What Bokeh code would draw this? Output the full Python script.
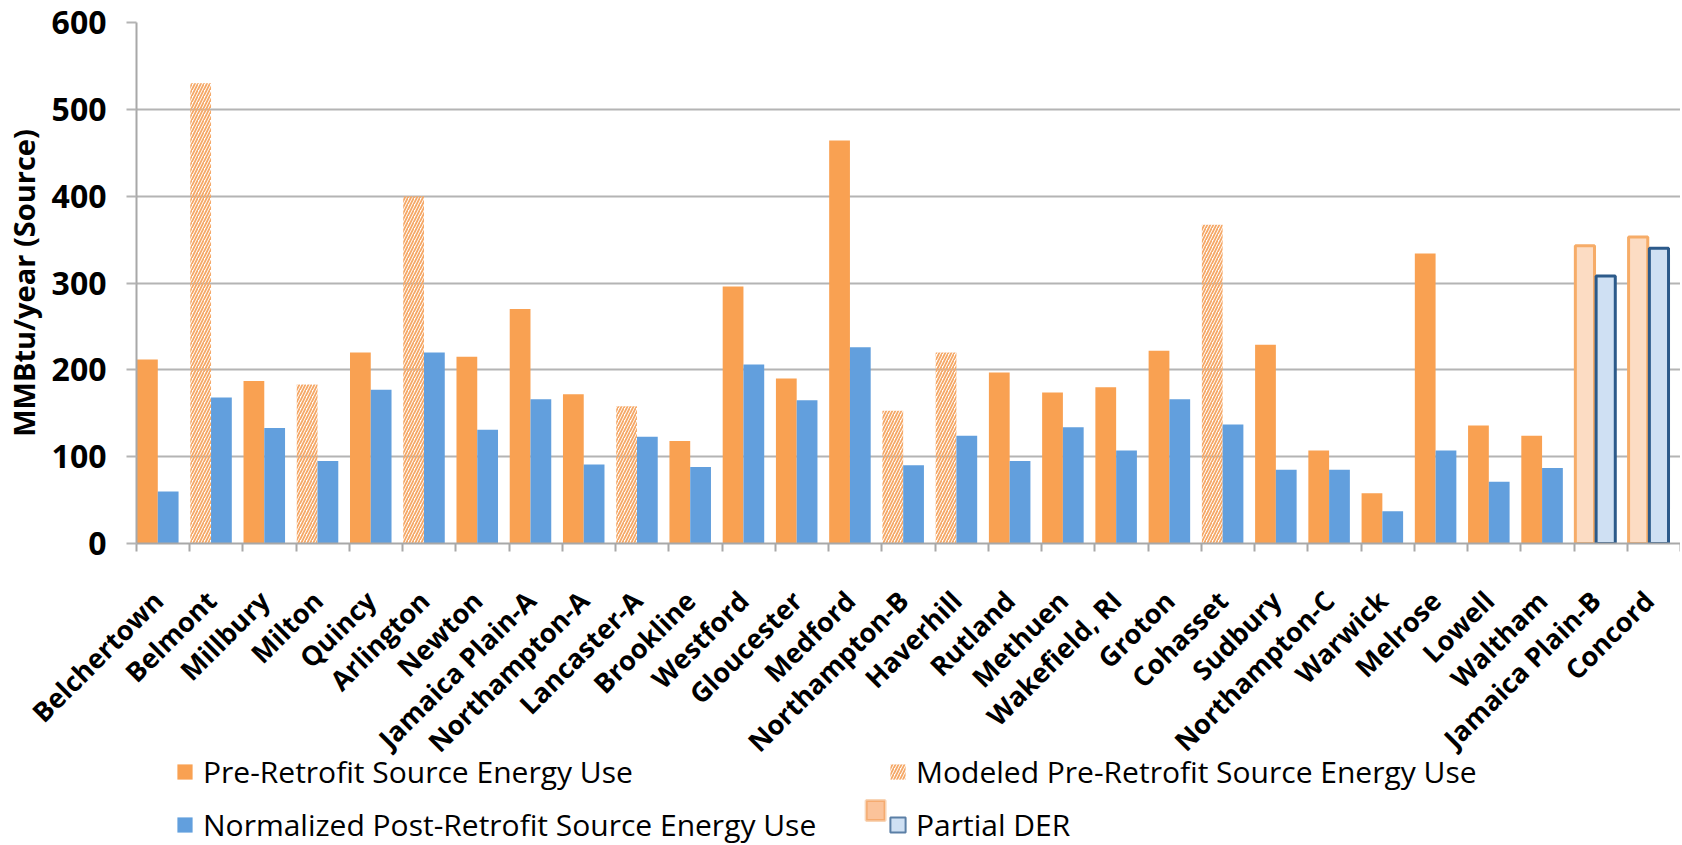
import math
from bokeh.plotting import figure
from bokeh.layouts import column
from bokeh.models import (Range1d, FixedTicker, Legend, LegendItem, ColumnDataSource,
                          BoxAnnotation)
from bokeh.embed import file_html
from bokeh.resources import INLINE

# ---------------- data ----------------
sites = ["Belchertown", "Belmont", "Millbury", "Milton", "Quincy", "Arlington", "Newton",
         "Jamaica Plain-A", "Northampton-A", "Lancaster-A", "Brookline", "Westford",
         "Gloucester", "Medford", "Northampton-B", "Haverhill", "Rutland", "Methuen",
         "Wakefield, RI", "Groton", "Cohasset", "Sudbury", "Northampton-C", "Warwick",
         "Melrose", "Lowell", "Waltham", "Jamaica Plain-B", "Concord"]

pre_sites = ["Belchertown", "Millbury", "Quincy", "Newton", "Jamaica Plain-A", "Northampton-A",
             "Brookline", "Westford", "Gloucester", "Medford", "Rutland", "Methuen",
             "Wakefield, RI", "Groton", "Sudbury", "Northampton-C", "Warwick", "Melrose",
             "Lowell", "Waltham"]
pre_values = [212, 187, 220, 215, 270, 172, 118, 296, 190, 464, 197, 174, 180, 222, 229, 107,
              58, 334, 136, 124]

modeled_sites = ["Belmont", "Milton", "Arlington", "Lancaster-A", "Northampton-B", "Haverhill",
                 "Cohasset"]
modeled_values = [530, 183, 400, 158, 153, 220, 367]

post_sites = sites[:27]
post_values = [60, 168, 133, 95, 177, 220, 131, 166, 91, 123, 88, 206, 165, 226, 90, 124, 95,
               134, 107, 166, 137, 85, 85, 37, 107, 71, 87]

partial_sites = ["Jamaica Plain-B", "Concord"]
partial_pre_values = [343, 353]
partial_post_values = [308, 340]

y_ticks = [0, 100, 200, 300, 400, 500, 600]

legend_labels = ["Pre-Retrofit Source Energy Use", "Modeled Pre-Retrofit Source Energy Use",
                 "Normalized Post-Retrofit Source Energy Use", "Partial DER"]

# ---------------- styling ----------------
ORANGE = "#F9A152"
BLUE = "#629FDD"
HATCH = "#F5A867"
P_ORANGE_FILL = "#FCDCC3"
P_ORANGE_LINE = "#F6AC68"
P_BLUE_FILL = "#CFE0F3"
P_BLUE_LINE = "#2C5A8A"
GRID = "#B4B4B4"
AXIS = "#A8A8A8"
FONT = "Open Sans"

W = 1680
LEFT = 131
TOP = 22
FRAME_H = 521
BOTTOM = 236
MAIN_H = TOP + FRAME_H + BOTTOM
LEG_H = 94
LEG_OVERLAP = MAIN_H - (845 - LEG_H)

idx = {s: i for i, s in enumerate(sites)}
LEFT_OFF, RIGHT_OFF, BAR_W = 0.205, 0.595, 0.39

STYLE_PRE = dict(fill_color=ORANGE, line_color=None)
STYLE_MOD = dict(fill_color="white", fill_alpha=0, line_color=None, hatch_pattern="/",
                 hatch_color=HATCH, hatch_scale=6, hatch_weight=1.8)
STYLE_POST = dict(fill_color=BLUE, line_color=None)
STYLE_PPRE = dict(fill_color=P_ORANGE_FILL, line_color=P_ORANGE_LINE, line_width=3)
STYLE_PPOST = dict(fill_color=P_BLUE_FILL, line_color=P_BLUE_LINE, line_width=3)


def source(names, vals, off):
    return ColumnDataSource(dict(x=[idx[n] + off for n in names], top=vals, site=names))


src_pre = source(pre_sites, pre_values, LEFT_OFF)
src_mod = source(modeled_sites, modeled_values, LEFT_OFF)
src_post = source(post_sites, post_values, RIGHT_OFF)
src_ppre = source(partial_sites, partial_pre_values, LEFT_OFF)
src_ppost = source(partial_sites, partial_post_values, RIGHT_OFF)

p = figure(width=W, height=MAIN_H,
           x_range=Range1d(0, len(sites)), y_range=Range1d(y_ticks[0], y_ticks[-1]),
           output_backend="svg", toolbar_location=None,
           min_border_left=LEFT, min_border_right=0, min_border_top=TOP,
           min_border_bottom=BOTTOM)
p.outline_line_color = None
p.background_fill_color = "white"
p.border_fill_color = "white"

p.vbar(x="x", top="top", width=BAR_W, source=src_pre, **STYLE_PRE)
p.vbar(x="x", top="top", width=BAR_W, source=src_mod, **STYLE_MOD)
p.vbar(x="x", top="top", width=BAR_W, source=src_post, **STYLE_POST)
p.vbar(x="x", top="top", width=BAR_W - 0.03, source=src_ppre, **STYLE_PPRE)
p.vbar(x="x", top="top", width=BAR_W - 0.03, source=src_ppost, **STYLE_PPOST)

# grid
p.xgrid.visible = False
p.ygrid.grid_line_color = GRID
p.ygrid.grid_line_width = 2

# y axis
yax = p.yaxis[0]
yax.ticker = FixedTicker(ticks=y_ticks)
yax.axis_label = "MMBtu/year (Source)"
yax.axis_label_text_font = FONT
yax.axis_label_text_font_style = "bold"
yax.axis_label_text_font_size = "29px"
yax.axis_label_text_color = "black"
yax.axis_label_standoff = 6
yax.major_label_text_font = FONT
yax.major_label_text_font_style = "bold"
yax.major_label_text_font_size = "32px"
yax.major_label_text_color = "black"
yax.major_label_standoff = 20
yax.major_tick_out = 10
yax.major_tick_in = 0
yax.minor_tick_line_color = None
yax.major_tick_line_color = GRID
yax.major_tick_line_width = 2
yax.axis_line_color = AXIS
yax.axis_line_width = 2

# x axis
xax = p.xaxis[0]
xax.ticker = FixedTicker(ticks=[i + 0.4 for i in range(len(sites))],
                         minor_ticks=list(range(len(sites) + 1)))
xax.major_label_overrides = {i + 0.4: s for i, s in enumerate(sites)}
xax.major_label_orientation = math.pi / 4
xax.major_label_text_font = FONT
xax.major_label_text_font_style = "bold"
xax.major_label_text_font_size = "27px"
xax.major_label_text_color = "black"
xax.major_label_standoff = 44
xax.major_tick_line_color = None
xax.major_tick_out = 0
xax.major_tick_in = 0
xax.minor_tick_line_color = AXIS
xax.minor_tick_line_width = 2
xax.minor_tick_out = 8
xax.minor_tick_in = 0
xax.axis_line_color = AXIS
xax.axis_line_width = 2

# ---------------- legend strip (overlaps the bottom border of the chart) ----------------
leg = figure(width=W, height=LEG_H, x_range=Range1d(LEFT, W), y_range=Range1d(0, LEG_H),
             output_backend="svg", toolbar_location=None,
             min_border_left=LEFT, min_border_right=0, min_border_top=0, min_border_bottom=0,
             x_axis_location=None, y_axis_location=None, margin=(-LEG_OVERLAP, 0, 0, 0))
leg.outline_line_color = None
leg.grid.visible = False
leg.background_fill_alpha = 0
leg.border_fill_alpha = 0

l_pre = leg.vbar(x="x", top="top", width=BAR_W, source=src_pre, visible=False, **STYLE_PRE)
l_mod = leg.vbar(x="x", top="top", width=BAR_W, source=src_mod, visible=False, **STYLE_MOD)
l_post = leg.vbar(x="x", top="top", width=BAR_W, source=src_post, visible=False, **STYLE_POST)
l_part = leg.vbar(x="x", top="top", width=BAR_W, source=src_ppost, visible=False,
                  fill_color=P_BLUE_FILL, line_color="#5B7FA6", line_width=2)

legend = Legend(items=[
    LegendItem(label=legend_labels[0], renderers=[l_pre]),
    LegendItem(label=legend_labels[1], renderers=[l_mod]),
    LegendItem(label=legend_labels[2], renderers=[l_post]),
    LegendItem(label=legend_labels[3], renderers=[l_part]),
], location=(39, 0), orientation="horizontal", ncols=2)
legend.label_text_font = FONT
legend.label_text_font_size = "30px"
legend.label_text_color = "black"
legend.glyph_width = 19
legend.glyph_height = 19
legend.label_standoff = 9
legend.label_height = 30
legend.label_width = 673
legend.spacing = 12
legend.padding = 0
legend.margin = 0
legend.border_line_color = None
legend.background_fill_alpha = 0
legend.inactive_fill_alpha = 0
leg.add_layout(legend)

# the small orange box that precedes the "Partial DER" swatch
leg.add_layout(BoxAnnotation(left=863, right=882, bottom=25, top=45,
                             fill_color="#FBC39A", fill_alpha=1,
                             line_color="#E8740F", line_width=3))

layout = column(p, leg, spacing=0)
open("out.html", "w").write(file_html(layout, INLINE))
